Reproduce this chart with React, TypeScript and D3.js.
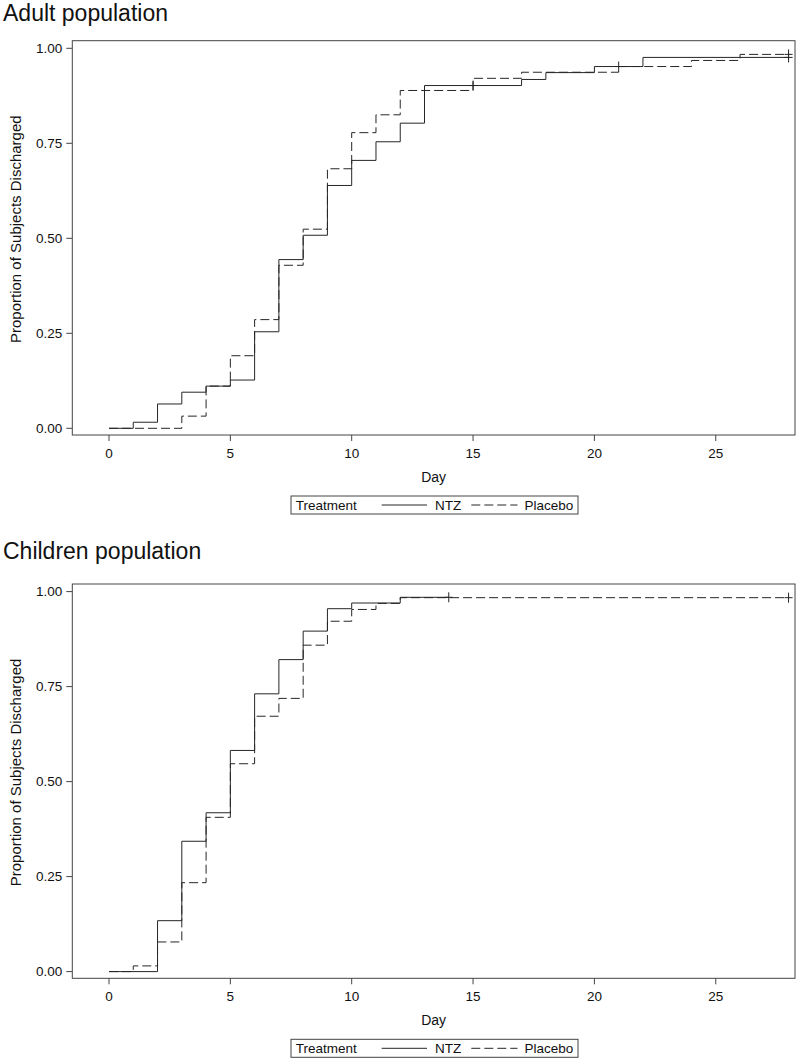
import React from "react";
import * as d3 from "d3";

// ---- Data ----
const xTicks = [0, 5, 10, 15, 20, 25];
const yTicks = [0, 0.25, 0.5, 0.75, 1.0];

const adultNTZTimes = [0, 1, 2, 3, 4, 5, 6, 7, 8, 9, 10, 11, 12, 13, 17, 18, 20, 22];
const adultNTZValues = [0, 0.016, 0.064, 0.095, 0.111, 0.127, 0.254, 0.444, 0.508, 0.639, 0.705, 0.754, 0.803, 0.902, 0.918, 0.936, 0.952, 0.976];
const adultNTZEnd = 28;
const adultNTZCensor = [15, 21, 28];

const adultPlaceboTimes = [0, 3, 4, 5, 6, 7, 8, 9, 10, 11, 12, 15, 17, 21, 24, 26];
const adultPlaceboValues = [0, 0.032, 0.111, 0.191, 0.286, 0.429, 0.524, 0.683, 0.778, 0.825, 0.889, 0.921, 0.937, 0.952, 0.968, 0.984];
const adultPlaceboEnd = 28;
const adultPlaceboCensor = [28];

const childNTZTimes = [0, 2, 3, 4, 5, 6, 7, 8, 9, 10, 12];
const childNTZValues = [0, 0.134, 0.343, 0.418, 0.582, 0.731, 0.821, 0.896, 0.955, 0.97, 0.985];
const childNTZEnd = 14;
const childNTZCensor = [14];

const childPlaceboTimes = [0, 1, 2, 3, 4, 5, 6, 7, 8, 9, 10, 11, 12];
const childPlaceboValues = [0, 0.015, 0.078, 0.234, 0.406, 0.547, 0.672, 0.719, 0.859, 0.922, 0.953, 0.969, 0.984];
const childPlaceboEnd = 28;
const childPlaceboCensor = [28];

const FONT = "'Liberation Sans', Arial, Helvetica, sans-serif";
const INK = "#262626";

type Series = { times: number[]; values: number[]; end: number; censor: number[] };

function stepValueAt(s: Series, t: number) {
  let v = s.values[0];
  for (let i = 0; i < s.times.length; i++) if (s.times[i] <= t) v = s.values[i];
  return v;
}

function Panel({ title, titleY, frameTop, ntz, placebo }: { title: string; titleY: number; frameTop: number; ntz: Series; placebo: Series }) {
  const left = 72.3, right = 795;
  const frameBottom = frameTop + 394.3;
  const x = d3.scaleLinear().domain([0, 28]).range([109, 109 + 28 * 24.27]);
  const y = d3.scaleLinear().domain([0, 1]).range([frameTop + 387.6, frameTop + 7.6]);
  const line = d3.line<[number, number]>().x(d => x(d[0])).y(d => y(d[1])).curve(d3.curveStepAfter);
  const pts = (s: Series): [number, number][] => {
    const p: [number, number][] = s.times.map((t, i) => [t, s.values[i]]);
    p.push([s.end, s.values[s.values.length - 1]]);
    return p;
  };
  const censorMarks = (s: Series, key: string) =>
    s.censor.map((t, i) => {
      const cx = x(t), cy = y(stepValueAt(s, t));
      return (
        <g key={key + i} stroke={INK} strokeWidth={1}>
          <line x1={cx} x2={cx} y1={cy - 5} y2={cy + 5} />
          <line x1={cx - 4} x2={cx + 4} y1={cy} y2={cy} />
        </g>
      );
    });
  const legTop = frameBottom + 61;
  const legMid = legTop + 9;
  const midX = (left + right) / 2;
  return (
    <g>
      <text x={3} y={titleY} fontSize={23} fontFamily={FONT} fill="#111">{title}</text>
      <rect x={left} y={frameTop} width={right - left} height={frameBottom - frameTop} fill="none" stroke="#444" strokeWidth={1} />
      {yTicks.map(t => (
        <g key={"y" + t}>
          <line x1={left - 6} x2={left} y1={y(t)} y2={y(t)} stroke="#444" />
          <text x={left - 10} y={y(t) + 4.5} textAnchor="end" fontSize={13.5} fontFamily={FONT} fill="#111">{d3.format(".2f")(t)}</text>
        </g>
      ))}
      {xTicks.map(t => (
        <g key={"x" + t}>
          <line x1={x(t)} x2={x(t)} y1={frameBottom} y2={frameBottom + 6} stroke="#444" />
          <text x={x(t)} y={frameBottom + 22.5} textAnchor="middle" fontSize={13.5} fontFamily={FONT} fill="#111">{t}</text>
        </g>
      ))}
      <text x={midX} y={frameBottom + 47} textAnchor="middle" fontSize={14} fontFamily={FONT} fill="#111">Day</text>
      <text transform={`translate(20.5,${frameTop + 302.3}) rotate(-90)`} textAnchor="start" fontSize={15} fontFamily={FONT} fill="#111">Proportion of Subjects Discharged</text>
      <path d={line(pts(ntz)) || ""} fill="none" stroke={INK} strokeWidth={1} />
      <path d={line(pts(placebo)) || ""} fill="none" stroke={INK} strokeWidth={1} strokeDasharray="9,4" />
      {censorMarks(ntz, "n")}
      {censorMarks(placebo, "p")}
      {/* legend */}
      <rect x={291} y={legTop} width={287} height={18} fill="white" stroke="#444" strokeWidth={1} />
      <text x={295.8} y={legMid + 5} fontSize={13.5} fontFamily={FONT} fill="#111">Treatment</text>
      <line x1={381.7} x2={427} y1={legMid} y2={legMid} stroke={INK} />
      <text x={435} y={legMid + 5} fontSize={13.5} fontFamily={FONT} fill="#111">NTZ</text>
      <line x1={471.3} x2={517.5} y1={legMid} y2={legMid} stroke={INK} strokeDasharray="9,4" />
      <text x={524.6} y={legMid + 5} fontSize={13.5} fontFamily={FONT} fill="#111">Placebo</text>
    </g>
  );
}

export default function App() {
  return (
    <div style={{ position: "absolute", left: 0, top: 0, width: 798, height: 1059, background: "white" }}>
      <svg width={798} height={1059} style={{ display: "block" }}>
        <rect width={798} height={1059} fill="white" />
        <Panel
          title="Adult population"
          titleY={21}
          frameTop={40.7}
          ntz={{ times: adultNTZTimes, values: adultNTZValues, end: adultNTZEnd, censor: adultNTZCensor }}
          placebo={{ times: adultPlaceboTimes, values: adultPlaceboValues, end: adultPlaceboEnd, censor: adultPlaceboCensor }}
        />
        <Panel
          title="Children population"
          titleY={558.5}
          frameTop={584}
          ntz={{ times: childNTZTimes, values: childNTZValues, end: childNTZEnd, censor: childNTZCensor }}
          placebo={{ times: childPlaceboTimes, values: childPlaceboValues, end: childPlaceboEnd, censor: childPlaceboCensor }}
        />
      </svg>
    </div>
  );
}
